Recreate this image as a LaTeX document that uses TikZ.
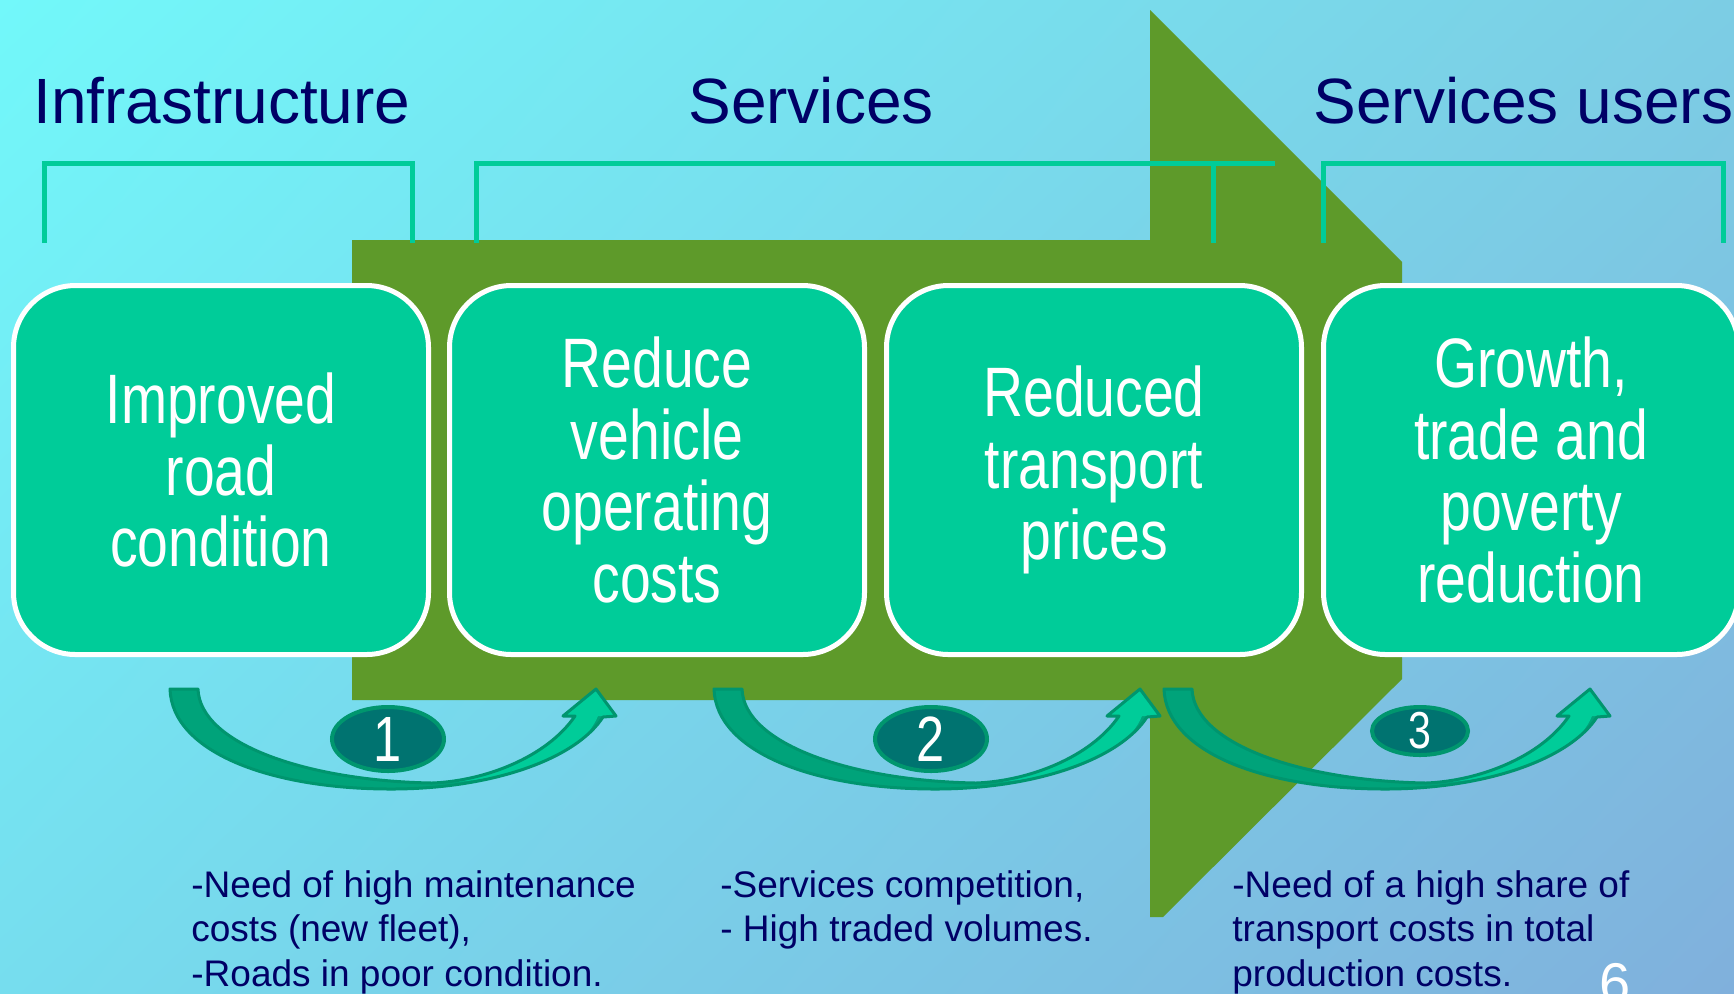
\documentclass[tikz,border=0pt]{standalone}
\usepackage{fontspec}
\setmainfont{Liberation Sans}
\newfontfamily\narrowsans{Liberation Sans}[FakeStretch=0.79]
\usetikzlibrary{shapes.geometric,shadings}

\definecolor{bgUL}{HTML}{72F8FA}
\definecolor{bgUR}{HTML}{7CCDE4}
\definecolor{bgLL}{HTML}{76DDEE}
\definecolor{bgLR}{HTML}{80B0DC}
\definecolor{flowgreen}{HTML}{5E9A2A}
\definecolor{boxgreen}{HTML}{00CC99}
\definecolor{navy}{HTML}{000066}
\definecolor{arrdark}{HTML}{00A37A}
\definecolor{arrline}{HTML}{00956E}
\definecolor{arrlight}{HTML}{00CC99}
\definecolor{elldark}{HTML}{007370}
\definecolor{ellline}{HTML}{00966E}

\tikzset{
  heading/.style={anchor=base west, inner sep=0pt, text=navy,
    font=\fontsize{32}{36}\selectfont},
  stagebox/.style={draw=white, line width=2.5pt, fill=boxgreen,
    rounded corners=31pt, minimum width=207.5pt, minimum height=184.5pt,
    inner sep=0pt, text=white, align=center,
    font=\narrowsans\fontsize{35}{35.75}\selectfont},
  bracket/.style={draw=boxgreen, line width=2.5pt},
  note/.style={anchor=base west, inner sep=0pt, text=navy,
    font=\fontsize{18.5}{22.25}\selectfont},
  badge/.style={ellipse, draw=ellline, line width=2pt, fill=elldark, inner sep=0pt},
  badgenum/.style={text=white, inner sep=0pt},
  uarrow/.pic={
    % curved block arrow: tail on the left, head on the right
    \path[fill=arrdark]
      (0,689) .. controls (2,752) and (100,789) .. (221,789)
      .. controls (320,789) and (405,760) .. (433,717)
      -- (446,716) -- (426,689) -- (393,716) -- (405,716)
      .. controls (377,757) and (315,781) .. (262,783)
      .. controls (140,781) and (30,745) .. (28,689) -- cycle;
    \path[fill=arrlight]
      (405,716) .. controls (377,757) and (315,781) .. (262,783)
      .. controls (335,782) and (410,760) .. (428,716)
      -- (446,716) -- (426,689) -- (393,716) -- cycle;
    \draw[arrline, line width=1.5pt, line join=round]
      (0,689) .. controls (2,752) and (100,789) .. (221,789)
      .. controls (320,789) and (405,760) .. (433,717)
      -- (446,716) -- (426,689) -- (393,716) -- (405,716)
      .. controls (377,757) and (315,781) .. (262,783)
      .. controls (140,781) and (30,745) .. (28,689) -- cycle;
  }
}

\begin{document}
\begin{tikzpicture}[x=0.5pt,y=-0.5pt]
  % page frame and background
  \useasboundingbox (0,0) rectangle (1734,993);
  \clip (0,0) rectangle (1734,993);
  \shade[upper left=bgUL, upper right=bgUR, lower left=bgLL, lower right=bgLR]
    (0,0) rectangle (1734,993);

  % large flow arrow behind the stages
  \fill[flowgreen] (352,240) -- (1150,240) -- (1150,10) -- (1402,262)
    -- (1402,679) -- (1163,917) -- (1150,917) -- (1150,700) -- (352,700) -- cycle;

  % group headings
  \node[heading] (hinfra) at (33,123) {Infrastructure};
  \node[heading] (hserv) at (688,123) {Services};
  \node[heading] (husers) at (1313,123) {Services users};

  % brackets under the headings
  \coordinate (b1a) at (44,243);  \coordinate (b1b) at (412,243);
  \coordinate (b2a) at (476,243); \coordinate (b2b) at (1213,243);
  \coordinate (b3a) at (1323,243); \coordinate (b3b) at (1723,243);
  \draw[bracket] (b1a) -- (44,163) -- (412,163) -- (b1b);
  \draw[bracket] (b2a) -- (476,163) -- (1275,163);
  \draw[bracket] (1213,163) -- (b2b);
  \draw[bracket] (b3a) -- (1323,163) -- (1723,163) -- (b3b);

  % stages
  \node[stagebox] (s1) at (221,470) {Improved\\road\\condition};
  \node[stagebox] (s2) at (657,470) {Reduce\\vehicle\\operating\\costs};
  \node[stagebox] (s3) at (1094,470) {Reduced\\transport\\prices};
  \node[stagebox] (s4) at (1531,470) {Growth,\\trade and\\poverty\\reduction};

  % curved arrows between stages
  \pic (u1) at (170,0) {uarrow};
  \pic (u2) at (714,0) {uarrow};
  \pic (u3) at (1164,0) {uarrow};

  % numbered badges
  \node[badge, minimum width=56pt, minimum height=32pt] (e1) at (388,739) {};
  \node[badge, minimum width=56pt, minimum height=32pt] (e2) at (931,739) {};
  \node[badge, minimum width=48pt, minimum height=24pt] (e3) at (1420,731) {};
  \node[badgenum, font=\narrowsans\fontsize{32}{34}\selectfont] (n1) at (e1.center) {1};
  \node[badgenum, font=\narrowsans\fontsize{32}{34}\selectfont] (n2) at (e2.center) {2};
  \node[badgenum, font=\narrowsans\fontsize{26}{28}\selectfont] (n3) at (e3.center) {3};

  % conditions under each step
  \node[note] (c1) at (191,897) {\begin{tabular}[t]{@{}l@{}}-Need of high maintenance\\costs (new fleet),\\-Roads in poor condition.\end{tabular}};
  \node[note] (c2) at (720,897) {\begin{tabular}[t]{@{}l@{}}-Services competition,\\- High traded volumes.\end{tabular}};
  \node[note] (c3) at (1232,897) {\begin{tabular}[t]{@{}l@{}}-Need of a high share of\\transport costs in total\\production costs.\end{tabular}};

  % page number
  \node[anchor=base, inner sep=0pt, text=white, font=\fontsize{28}{30}\selectfont] (pg) at (1615,1002) {6};
\end{tikzpicture}
\end{document}
